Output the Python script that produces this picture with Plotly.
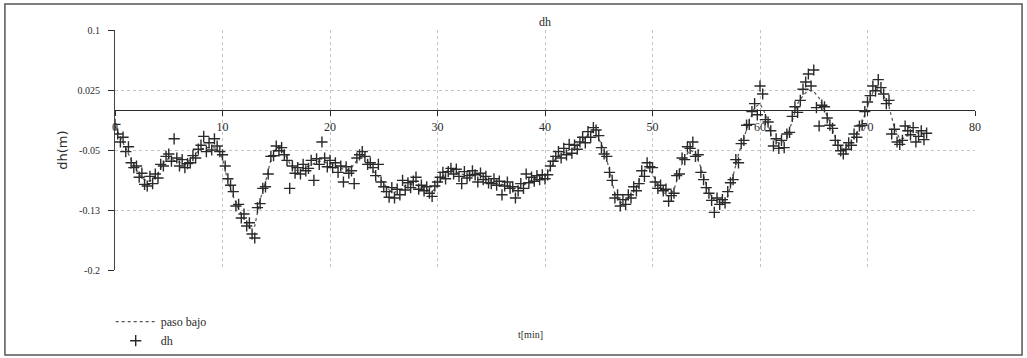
import plotly.graph_objects as go

# ---- data ----
step_lp = 0.5   # minutes between low-pass samples
paso_bajo = [
    -0.020, -0.035, -0.048, -0.062, -0.075, -0.085, -0.089, -0.088, -0.079, -0.066,
    -0.060, -0.063, -0.066, -0.068, -0.062, -0.054, -0.049, -0.047, -0.047, -0.048,
    -0.060, -0.090, -0.108, -0.124, -0.136, -0.148, -0.145, -0.112, -0.090, -0.062,
    -0.047, -0.049, -0.060, -0.073, -0.076, -0.073, -0.069, -0.066, -0.064, -0.065,
    -0.067, -0.069, -0.073, -0.075, -0.072, -0.063, -0.056, -0.064, -0.076, -0.083,
    -0.092, -0.100, -0.103, -0.100, -0.095, -0.093, -0.094, -0.097, -0.100, -0.102,
    -0.095, -0.083, -0.074, -0.076, -0.079, -0.081, -0.080, -0.079, -0.082, -0.086,
    -0.089, -0.092, -0.093, -0.095, -0.099, -0.098, -0.094, -0.089, -0.086, -0.085,
    -0.083, -0.074, -0.060, -0.055, -0.052, -0.049, -0.045, -0.038, -0.031, -0.027,
    -0.036, -0.050, -0.075, -0.105, -0.116, -0.113, -0.106, -0.097, -0.080, -0.070,
    -0.080, -0.094, -0.103, -0.108, -0.100, -0.076, -0.059, -0.050, -0.054, -0.072,
    -0.093, -0.109, -0.115, -0.115, -0.108, -0.082, -0.055, -0.035, -0.014, 0.003,
    0.008, -0.005, -0.030, -0.040, -0.042, -0.035, -0.012, 0.008, 0.018, 0.025,
    0.023, 0.015, 0.000, -0.015, -0.034, -0.046, -0.047, -0.040, -0.029, -0.016,
    0.005, 0.022, 0.027, 0.018, 0.004, -0.022, -0.036, -0.035, -0.026, -0.028,
    -0.030, -0.031,
]

step_dh = 0.25  # minutes between dh samples
dh = [
    -0.018, -0.030, -0.040, -0.034,
    -0.052, -0.046, -0.066, -0.072,
    -0.070, -0.084, -0.079, -0.093,
    -0.095, -0.083, -0.092, -0.080,
    -0.085, -0.068, -0.070, -0.058,
    -0.055, -0.064, -0.036, -0.060,
    -0.070, -0.062, -0.072, -0.067,
    -0.066, -0.057, -0.060, -0.049,
    -0.044, -0.033, -0.052, -0.041,
    -0.050, -0.036, -0.045, -0.052,
    -0.056, -0.070, -0.086, -0.094,
    -0.102, -0.120, -0.118, -0.135,
    -0.130, -0.145, -0.141, -0.155,
    -0.160, -0.122, -0.117, -0.098,
    -0.096, -0.080, -0.058, -0.057,
    -0.045, -0.051, -0.047, -0.056,
    -0.063, -0.098, -0.070, -0.079,
    -0.072, -0.080, -0.068, -0.076,
    -0.073, -0.063, -0.088, -0.061,
    -0.068, -0.040, -0.060, -0.071,
    -0.063, -0.072, -0.066, -0.078,
    -0.070, -0.090, -0.071, -0.079,
    -0.076, -0.092, -0.060, -0.056,
    -0.052, -0.058, -0.068, -0.066,
    -0.072, -0.082, -0.068, -0.090,
    -0.096, -0.102, -0.109, -0.097,
    -0.110, -0.099, -0.106, -0.088,
    -0.100, -0.091, -0.097, -0.089,
    -0.084, -0.099, -0.094, -0.101,
    -0.096, -0.104, -0.108, -0.095,
    -0.090, -0.084, -0.078, -0.086,
    -0.077, -0.073, -0.080, -0.074,
    -0.083, -0.092, -0.077, -0.085,
    -0.082, -0.076, -0.081, -0.090,
    -0.079, -0.087, -0.083, -0.091,
    -0.092, -0.086, -0.094, -0.089,
    -0.106, -0.095, -0.090, -0.098,
    -0.096, -0.110, -0.101, -0.092,
    -0.098, -0.080, -0.091, -0.084,
    -0.089, -0.082, -0.087, -0.081,
    -0.086, -0.081, -0.070, -0.064,
    -0.058, -0.052, -0.060, -0.048,
    -0.056, -0.043, -0.054, -0.044,
    -0.049, -0.040, -0.034, -0.041,
    -0.027, -0.034, -0.022, -0.025,
    -0.032, -0.047, -0.055, -0.058,
    -0.078, -0.088, -0.110, -0.106,
    -0.120, -0.112, -0.118, -0.106,
    -0.110, -0.096, -0.101, -0.092,
    -0.076, -0.083, -0.066, -0.071,
    -0.072, -0.090, -0.098, -0.094,
    -0.101, -0.099, -0.114, -0.107,
    -0.104, -0.082, -0.080, -0.060,
    -0.062, -0.046, -0.048, -0.040,
    -0.058, -0.056, -0.078, -0.087,
    -0.097, -0.104, -0.113, -0.128,
    -0.110, -0.118, -0.112, -0.116,
    -0.102, -0.091, -0.087, -0.062,
    -0.066, -0.042, -0.038, -0.019,
    -0.018, -0.002, 0.008, -0.006,
    0.030, 0.020, -0.012, -0.015,
    -0.026, -0.045, -0.036, -0.048,
    -0.038, -0.047, -0.030, -0.028,
    -0.008, 0.004, -0.003, 0.012,
    0.026, 0.035, 0.045, 0.030,
    0.050, 0.003, -0.020, 0.006,
    0.004, -0.010, -0.019, -0.023,
    -0.038, -0.044, -0.051, -0.055,
    -0.049, -0.041, -0.044, -0.030,
    -0.034, -0.020, -0.019, -0.002,
    0.010, 0.018, 0.030, 0.024,
    0.038, 0.028, 0.020, 0.008,
    0.012, -0.030, -0.024, -0.040,
    -0.043, -0.038, -0.020, -0.026,
    -0.031, -0.022, -0.040, -0.033,
    -0.026, -0.037, -0.029,
]

t_lp = [i * step_lp for i in range(len(paso_bajo))]
t_dh = [i * step_dh for i in range(len(dh))]

x_ticks = [0, 10, 20, 30, 40, 50, 60, 70, 80]
y_ticks = [0.1, 0.025, -0.05, -0.125, -0.2]
y_ticktext = ["0.1", "0.025", "-0.05", "-0.13", "-0.2"]

y_min, y_max = -0.2, 0.1
x_min, x_max = 0, 80

serif = "Liberation Serif, DejaVu Serif, serif"
ink = "#2a2a2a"
grid = "#c4c4c4"

fig = go.Figure()
fig.add_trace(go.Scatter(
    x=t_lp, y=paso_bajo, mode="lines", name="paso bajo",
    line=dict(color="#555555", width=1.2, dash="dot"),
))
fig.add_trace(go.Scatter(
    x=t_dh, y=dh, mode="markers", name="dh",
    marker=dict(symbol="cross-thin-open", size=8, color=ink,
                line=dict(color=ink, width=1.4)),
))

fig.update_layout(
    width=1027, height=358,
    margin=dict(l=115, r=52, t=30, b=88, autoexpand=False),
    paper_bgcolor="white", plot_bgcolor="white",
    font=dict(family=serif, size=11, color=ink),
    showlegend=True,
    legend=dict(x=-0.005, y=-0.155, xanchor="left", yanchor="top",
                bgcolor="rgba(0,0,0,0)", font=dict(family=serif, size=12, color=ink),
                tracegroupgap=0, itemwidth=40),
    xaxis=dict(
        range=[x_min, x_max], tickvals=x_ticks,
        anchor="free", position=(0 - y_min) / (y_max - y_min),
        showline=True, linecolor=ink, linewidth=1.3,
        ticks="outside", ticklen=5, tickcolor=ink, tickwidth=1.3,
        showgrid=True, gridcolor=grid, griddash="dot", gridwidth=1,
        zeroline=False, tickfont=dict(family=serif, size=12, color=ink),
    ),
    yaxis=dict(
        range=[y_min, y_max], tickvals=y_ticks, ticktext=y_ticktext,
        showline=True, linecolor="#444444", linewidth=1.2,
        ticks="outside", ticklen=6, tickcolor=ink, tickwidth=1.3,
        ticklabelstandoff=6,
        showgrid=True, gridcolor=grid, griddash="dot", gridwidth=1,
        zeroline=False, tickfont=dict(family=serif, size=10, color=ink),
    ),
    shapes=[dict(type="rect", xref="paper", yref="paper",
                 x0=-0.128, x1=1.0547, y0=-0.354, y1=1.108,
                 line=dict(color="#555555", width=1.5), fillcolor="rgba(0,0,0,0)",
                 layer="below")],
    annotations=[
        dict(text="dh", xref="paper", yref="paper", x=0.5, y=1.033,
             yanchor="middle", showarrow=False,
             font=dict(family=serif, size=12, color=ink)),
        dict(text="dh(m)", xref="paper", yref="paper", x=-0.073, y=0.5,
             textangle=-90, showarrow=False, yanchor="middle",
             font=dict(family="DejaVu Sans, sans-serif", size=13, color=ink)),
        dict(text="t[min]", xref="paper", yref="paper", x=0.483, y=-0.267,
             yanchor="middle", showarrow=False,
             font=dict(family=serif, size=10, color=ink)),
    ],
)

fig.write_html(
    "out.html",
    config={"displayModeBar": False},
    post_script="document.body.style.margin='0px';document.body.style.overflow='hidden';",
)
